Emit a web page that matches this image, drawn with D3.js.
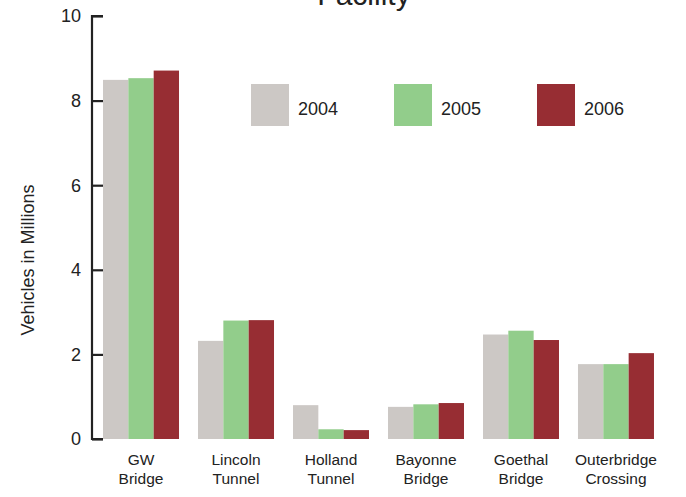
<!DOCTYPE html>
<html>
<head>
<meta charset="utf-8">
<script src="https://cdn.jsdelivr.net/npm/d3@7"></script>
<style>
  body { margin: 0; background: #fff; }
  text { font-family: "Liberation Sans", Arial, sans-serif; fill: #222; }
</style>
</head>
<body>
<div id="chart"></div>
<script>
var facilities = [["GW", "Bridge"], ["Lincoln", "Tunnel"], ["Holland", "Tunnel"],
                  ["Bayonne", "Bridge"], ["Goethal", "Bridge"], ["Outerbridge", "Crossing"]];
var years = ["2004", "2005", "2006"];
var v2004 = [8.49, 2.32, 0.80, 0.76, 2.47, 1.77];
var v2005 = [8.53, 2.80, 0.23, 0.82, 2.56, 1.77];
var v2006 = [8.71, 2.81, 0.21, 0.85, 2.34, 2.03];
var yTicks = [0, 2, 4, 6, 8, 10];
var colors = ["#ccc8c5", "#92cd8b", "#972d33"];

var svgWidth = 686, svgHeight = 497;
var axisX = 92, y0 = 439, y10 = 16;
var series = [v2004, v2005, v2006];

var svg = d3.select("#chart").append("svg")
    .attr("width", svgWidth)
    .attr("height", svgHeight);

var xScale = d3.scaleBand()
    .domain(d3.range(facilities.length))
    .range([axisX, 665])
    .paddingInner(0.2)
    .paddingOuter(0.116);

var subScale = d3.scaleBand()
    .domain(d3.range(years.length))
    .range([0, xScale.bandwidth()]);

var yScale = d3.scaleLinear()
    .domain([0, 10])
    .range([y0, y10]);

// bars
var groups = svg.append("g").selectAll("g")
    .data(facilities)
    .enter().append("g")
    .attr("transform", (d, i) => `translate(${xScale(i)},0)`);

groups.selectAll("rect")
    .data((d, i) => series.map((s, k) => ({k: k, v: s[i]})))
    .enter().append("rect")
    .attr("x", d => subScale(d.k))
    .attr("width", subScale.bandwidth())
    .attr("y", d => yScale(d.v))
    .attr("height", d => y0 - yScale(d.v))
    .attr("fill", d => colors[d.k]);

// y axis, ticks point inward
var yAxisCall = d3.axisRight(yScale)
    .tickValues(yTicks)
    .tickSize(11)
    .tickFormat("");

var yAxisGroup = svg.append("g")
    .attr("transform", `translate(${axisX},0)`)
    .call(yAxisCall);
yAxisGroup.select(".domain")
    .attr("d", `M11,${y10}H0V${y0}H11`)
    .attr("stroke", "#222")
    .attr("stroke-width", 2.2);
yAxisGroup.selectAll(".tick line")
    .attr("stroke", "#222")
    .attr("stroke-width", 2.2);

svg.append("g").selectAll("text")
    .data(yTicks)
    .enter().append("text")
    .attr("x", 81)
    .attr("y", d => yScale(d))
    .attr("dy", "0.36em")
    .attr("text-anchor", "end")
    .attr("font-size", "18px")
    .text(d => d);

// x labels
var xLabels = svg.append("g").selectAll("text")
    .data(facilities)
    .enter().append("text")
    .attr("x", (d, i) => xScale(i) + xScale.bandwidth() / 2)
    .attr("y", 465)
    .attr("text-anchor", "middle")
    .attr("font-size", "15.5px");
xLabels.append("tspan").text(d => d[0]);
xLabels.append("tspan")
    .attr("x", (d, i) => xScale(i) + xScale.bandwidth() / 2)
    .attr("dy", 19)
    .text(d => d[1]);

// y label
svg.append("text")
    .attr("transform", "rotate(-90)")
    .attr("x", -260)
    .attr("y", 34)
    .attr("text-anchor", "middle")
    .attr("font-size", "18px")
    .text("Vehicles in Millions");

// title (mostly cut off above the view)
svg.append("text")
    .attr("x", 364)
    .attr("y", 5)
    .attr("text-anchor", "middle")
    .attr("font-size", "30px")
    .text("Facility");

// legend
var legend = svg.append("g").selectAll("g")
    .data(years)
    .enter().append("g")
    .attr("transform", (d, i) => `translate(${251 + i * 143},84)`);
legend.append("rect")
    .attr("width", 38)
    .attr("height", 42)
    .attr("fill", (d, i) => colors[i]);
legend.append("text")
    .attr("x", 47)
    .attr("y", 31)
    .attr("font-size", "18px")
    .text(d => d);
</script>
</body>
</html>
